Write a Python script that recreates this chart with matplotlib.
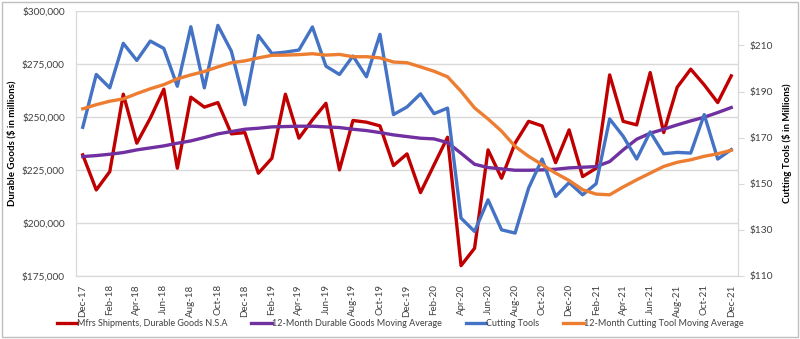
import matplotlib
matplotlib.use("Agg")
import matplotlib.pyplot as plt
from matplotlib.patches import Rectangle
from matplotlib.ticker import FuncFormatter

plt.rcParams["font.family"] = ["Lato", "DejaVu Sans"]

# monthly, Dec-17 .. Dec-21
months = ["Dec-17", "Jan-18", "Feb-18", "Mar-18", "Apr-18", "May-18", "Jun-18", "Jul-18",
          "Aug-18", "Sep-18", "Oct-18", "Nov-18", "Dec-18", "Jan-19", "Feb-19", "Mar-19",
          "Apr-19", "May-19", "Jun-19", "Jul-19", "Aug-19", "Sep-19", "Oct-19", "Nov-19",
          "Dec-19", "Jan-20", "Feb-20", "Mar-20", "Apr-20", "May-20", "Jun-20", "Jul-20",
          "Aug-20", "Sep-20", "Oct-20", "Nov-20", "Dec-20", "Jan-21", "Feb-21", "Mar-21",
          "Apr-21", "May-21", "Jun-21", "Jul-21", "Aug-21", "Sep-21", "Oct-21", "Nov-21",
          "Dec-21"]

# left axis ($ in millions)
durable = [232080, 215560, 224200, 260700, 237600, 249400, 263050, 225800,
           259300, 254600, 256750, 242000, 242600, 223440, 230500, 260700,
           239950, 248600, 256400, 225000, 248300, 247500, 245750, 227050,
           232550, 214300, 227360, 240400, 179860, 188050, 234430, 221080,
           237600, 247900, 245750, 228400, 243870, 221850, 225800, 269800,
           247900, 246230, 270900, 242600, 264000, 272500, 265100, 256750,
           269340]
durable_ma = [231290, 231760, 232390, 233180, 234440, 235380, 236320, 237580,
              238680, 240250, 241980, 243080, 244180, 244650, 245280, 245440,
              245600, 245600, 245280, 244970, 244180, 243550, 242610, 241510,
              240720, 239940, 239620, 237890, 232860, 227670, 226100, 225470,
              224840, 224840, 225000, 225320, 225950, 226260, 226570, 228930,
              234440, 239470, 242300, 244180, 246230, 248110, 249840, 252050,
              254400]

# right axis ($ in Millions)
cutting = [174.5, 197.4, 191.6, 210.9, 203.5, 211.9, 208.7, 192.3,
           218.1, 191.6, 218.7, 207.5, 184.3, 214.3, 206.5, 207.1,
           208.0, 218.0, 201.0, 197.4, 205.4, 196.4, 214.8, 180.0,
           183.3, 189.0, 180.4, 182.8, 135.1, 129.3, 143.0, 130.0,
           128.6, 148.1, 160.7, 144.5, 150.5, 145.2, 150.0, 178.1,
           170.6, 160.7, 172.5, 163.0, 163.6, 163.3, 180.0, 160.7,
           164.8]
cutting_ma = [182.5, 184.3, 185.8, 186.8, 189.1, 191.2, 193.0, 195.5,
              197.2, 198.7, 200.7, 202.5, 203.3, 204.6, 205.7, 205.8,
              206.0, 206.4, 205.8, 206.1, 205.1, 205.1, 204.6, 202.8,
              202.5, 200.7, 198.8, 196.4, 190.1, 182.9, 178.1, 172.8,
              166.2, 161.9, 158.3, 154.6, 151.4, 147.4, 145.5, 145.2,
              148.6, 151.7, 154.6, 157.5, 159.3, 160.4, 161.9, 163.0,
              164.5]

RED, PURPLE, BLUE, ORANGE = "#C00000", "#7030A0", "#4472C4", "#ED7D31"
GRID = "#D9D9D9"
TXT = "#404040"

fig = plt.figure(figsize=(8.0, 3.39), dpi=100)
fig.patches.append(Rectangle((0.003, 0.006), 0.994, 0.988, transform=fig.transFigure,
                             fill=False, edgecolor="#BFBFBF", linewidth=1.0))
ax = fig.add_axes([0.095, 0.186, 0.8275, 0.782])
ax2 = ax.twinx()

x = list(range(len(months)))
lw = 2.4
l1, = ax.plot(x, durable, color=RED, lw=lw, label="Mfrs Shipments, Durable Goods N.S.A")
l2, = ax.plot(x, durable_ma, color=PURPLE, lw=lw, label="12-Month Durable Goods Moving Average")
l3, = ax2.plot(x, cutting, color=BLUE, lw=lw, label="Cutting Tools")
l4, = ax2.plot(x, cutting_ma, color=ORANGE, lw=lw, label="12-Month Cutting Tool Moving Average")

ax.set_xlim(-0.5, len(months) - 0.5)
ax.set_ylim(175000, 300000)
ax.set_yticks(range(175000, 300001, 25000))
ax.yaxis.set_major_formatter(FuncFormatter(lambda v, p: f"${v:,.0f}"))
ax.grid(axis="y", color=GRID, lw=1.0)
ax.set_axisbelow(True)

ax2.set_ylim(110, 225)
ax2.set_yticks(range(110, 211, 20))
ax2.yaxis.set_major_formatter(FuncFormatter(lambda v, p: f"${v:,.0f}"))

ax.set_xticks(x[::2])
ax.set_xticklabels(months[::2], rotation=90)

for a in (ax, ax2):
    a.spines["top"].set_visible(False)
    a.spines["left"].set_color(GRID)
    a.spines["right"].set_color(GRID)
    a.spines["bottom"].set_color(GRID)
    a.tick_params(labelsize=7.3, labelcolor=TXT, colors=GRID)
ax.tick_params(axis="y", length=0, pad=8)
ax.tick_params(axis="x", length=0, pad=6, labelsize=7)
ax2.tick_params(axis="y", length=4, pad=4)

ax.set_ylabel("Durable Goods ($ in millions)", fontsize=7, fontweight="bold",
              color="black", labelpad=4)
ax2.set_ylabel("Cutting Tools ($ in Millions)", fontsize=7, fontweight="bold",
               color="black", rotation=90, labelpad=7)

fig.legend(handles=[l1, l2, l3, l4], loc="center", bbox_to_anchor=(0.5, 0.045),
           ncol=4, frameon=False, fontsize=6.5, handlelength=2.3, handletextpad=0.0,
           columnspacing=2.6, labelcolor=TXT)

fig.savefig("out.png", dpi=100)
